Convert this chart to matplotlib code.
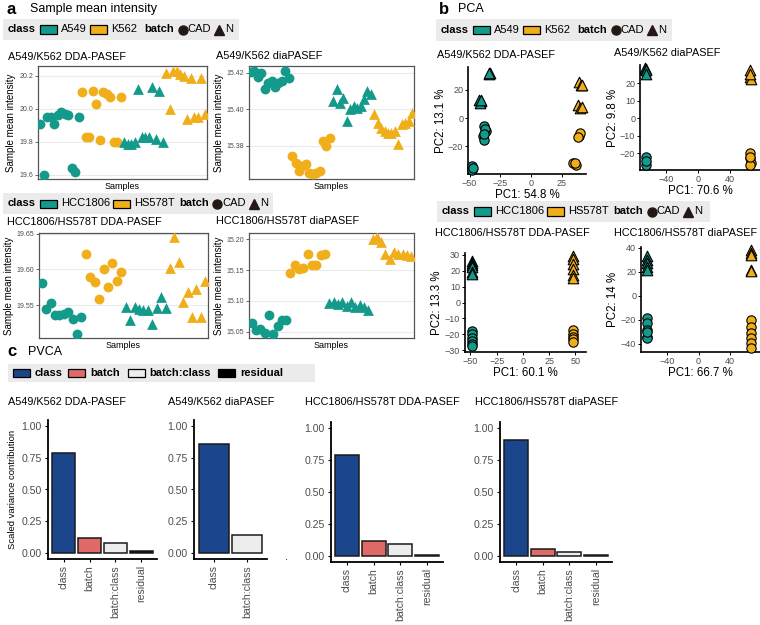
import matplotlib
matplotlib.use("Agg")
import matplotlib.pyplot as plt
from matplotlib.patches import Rectangle
from matplotlib.lines import Line2D
import numpy as np

plt.rcParams["font.family"] = ["Liberation Sans", "DejaVu Sans"]

W, H = 760, 625
TEAL = "#149A8B"
GOLD = "#F1AE1B"
BLUE = "#1B468C"
SALMON = "#E06A67"
LIGHT = "#EDEDED"
GRAYTXT = "#4D4D4D"

# ---- a: sample mean intensity, in sample order (CAD circles, then N triangles)
a1_a549_cad = [19.91, 19.60, 19.95, 19.95, 19.91, 19.96, 19.98, 19.97, 19.96, 19.64, 19.62, 19.95]
a1_k562_cad = [20.10, 19.83, 19.83, 20.11, 20.03, 19.81, 20.10, 20.09, 20.07, 19.80, 19.80, 20.07]
a1_a549_n = [19.80, 19.79, 19.79, 19.80, 20.12, 19.83, 19.83, 19.83, 20.13, 19.82, 20.11, 19.80]
a1_k562_n = [20.22, 20.00, 20.23, 20.23, 20.21, 20.20, 19.94, 20.19, 19.95, 19.95, 20.19, 19.97]

a2_a549_cad = [15.4204, 15.4209, 15.4178, 15.4196, 15.4109, 15.4145, 15.4155, 15.4124, 15.4145, 15.4155, 15.4209, 15.4173]
a2_k562_cad = [15.3745, 15.3709, 15.3664, 15.3691, 15.3700, 15.3655, 15.3645, 15.3655, 15.3664, 15.3827, 15.3800, 15.3845]
a2_a549_n = [15.4045, 15.4109, 15.4036, 15.4064, 15.3936, 15.4000, 15.4018, 15.4009, 15.4018, 15.4055, 15.4100, 15.4082]
a2_k562_n = [15.3973, 15.3927, 15.3900, 15.3882, 15.3873, 15.3873, 15.3882, 15.3809, 15.3918, 15.3927, 15.3936, 15.3982]

a3_hcc_cad = [19.581, 19.544, 19.553, 19.536, 19.536, 19.538, 19.541, 19.531, 19.509, 19.533]
a3_hs_cad = [19.622, 19.589, 19.582, 19.558, 19.601, 19.575, 19.609, 19.584, 19.596]
a3_hcc_n = [19.548, 19.529, 19.547, 19.544, 19.543, 19.543, 19.523, 19.546, 19.562, 19.546]
a3_hs_n = [19.602, 19.645, 19.611, 19.554, 19.568, 19.533, 19.572, 19.534, 19.584]

a4_hcc_cad = [15.0646, 15.0532, 15.0548, 15.0478, 15.0776, 15.0456, 15.0586, 15.0684, 15.0694]
a4_hs_cad = [15.1453, 15.1578, 15.1523, 15.1540, 15.1767, 15.1578, 15.1578, 15.1751, 15.1756]
a4_hcc_n = [15.0965, 15.0982, 15.0944, 15.0982, 15.0911, 15.0982, 15.0900, 15.0927, 15.0900, 15.0846]
a4_hs_n = [15.2011, 15.2038, 15.1957, 15.1767, 15.1686, 15.1794, 15.1756, 15.1767, 15.1740, 15.1724]

# ---- b: PCA scores (x = PC1, y = PC2)
b1_a549_cad_x = [-38.5, -37.0, -39.3, -38.5, -37.5, -38.0, -47.8, -48.3, -47.5]
b1_a549_cad_y = [-5.9, -9.4, -12.9, -15.3, -7.5, -11.0, -34.0, -36.5, -35.0]
b1_k562_cad_x = [39.3, 40.0, 38.5, 34.5, 36.5, 35.5]
b1_k562_cad_y = [-12.7, -10.8, -13.5, -31.9, -33.0, -32.0]
b1_a549_n_x = [-34.0, -33.5, -34.5, -42.0, -41.0, -41.5, -40.5]
b1_a549_n_y = [31.0, 32.0, 31.5, 13.0, 12.0, 10.5, 12.5]
b1_k562_n_x = [39.3, 40.5, 41.3, 38.5, 40.0, 41.5]
b1_k562_n_y = [25.1, 23.2, 23.5, 9.2, 6.8, 7.5]

b2_a549_cad_x = [-65.0, -65.0, -65.5]
b2_a549_cad_y = [-22.5, -26.9, -24.5]
b2_k562_cad_x = [65.0, 65.0, 66.0, 65.0, 64.5]
b2_k562_cad_y = [-20.2, -23.0, -25.7, -26.6, -22.0]
b2_a549_n_x = [-66.0, -65.0, -64.5, -65.5]
b2_a549_n_y = [28.6, 28.0, 27.5, 25.0]
b2_k562_n_x = [65.0, 65.0, 66.0, 64.5]
b2_k562_n_y = [27.4, 23.6, 22.5, 25.0]

b3_hcc_cad_x = [-48.6, -48.6, -48.6, -48.6, -48.6, -48.6]
b3_hcc_cad_y = [-18.0, -20.0, -22.0, -24.0, -26.0, -27.5]
b3_hs_cad_x = [47.6, 47.6, 47.6, 47.6, 47.6]
b3_hs_cad_y = [-17.0, -19.5, -21.5, -23.0, -24.5]
b3_hcc_n_x = [-48.6, -48.6, -48.6, -48.6, -48.6, -48.6]
b3_hcc_n_y = [26.0, 25.0, 23.5, 22.0, 19.0, 18.0]
b3_hs_n_x = [47.6, 47.6, 47.6, 47.6, 47.6, 47.6]
b3_hs_n_y = [29.0, 27.0, 24.0, 21.0, 17.0, 15.5]

b4_hcc_cad_x = [-65.0, -65.0, -65.0, -65.0, -65.0, -65.0]
b4_hcc_cad_y = [-18.3, -22.5, -28.0, -33.9, -35.3, -30.0]
b4_hs_cad_x = [66.0, 66.0, 66.0, 66.0, 66.0, 66.0]
b4_hs_cad_y = [-20.0, -25.6, -31.0, -35.3, -39.5, -43.6]
b4_hcc_n_x = [-65.0, -65.0, -65.0, -65.0, -65.0]
b4_hcc_n_y = [33.0, 30.0, 27.5, 24.0, 22.0]
b4_hs_n_x = [66.0, 66.0, 66.0, 66.0, 66.0]
b4_hs_n_y = [38.0, 35.6, 34.0, 21.7, 20.5]

# ---- c: PVCA
pvca_terms = ["class", "batch", "batch:class", "residual"]
pvca_colors = {"class": BLUE, "batch": SALMON, "batch:class": LIGHT, "residual": "black"}
c1_terms, c1_vals = pvca_terms, [0.79, 0.12, 0.08, 0.01]
c2_terms, c2_vals = ["class", "batch:class"], [0.86, 0.14]
c3_terms, c3_vals = pvca_terms, [0.79, 0.115, 0.09, 0.005]
c4_terms, c4_vals = pvca_terms, [0.91, 0.055, 0.03, 0.005]

fig = plt.figure(figsize=(W / 100, H / 100), dpi=100)
renderer = fig.canvas.get_renderer()


def px_axes(l, t, r, b):
    return fig.add_axes([l / W, 1 - b / H, (r - l) / W, (b - t) / H])


def ftext(x, y, s, **kw):
    return fig.text(x / W, 1 - y / H, s, va="center", ha="left", **kw)


def legend_row(x0, x1, top, bot, items, fs=8):
    fig.add_artist(Rectangle((x0 / W, 1 - bot / H), (x1 - x0) / W, (bot - top) / H,
                             transform=fig.transFigure, fc="#EBEBEB", ec="none", zorder=0))
    yc = (top + bot) / 2
    x = x0 + 5
    for kind, val, gap in items:
        if kind in ("t", "tb"):
            t = ftext(x, yc, val, fontsize=fs, fontweight="bold" if kind == "tb" else "normal")
            x += t.get_window_extent(renderer).width + gap
        elif kind == "box":
            fig.add_artist(Rectangle((x / W, 1 - (yc + 4) / H), 17 / W, 8 / H,
                                     transform=fig.transFigure, fc=val, ec="black", lw=0.9))
            x += 17 + gap
        else:
            fig.add_artist(Line2D([(x + 4) / W], [1 - yc / H], marker=val, ms=6.5, color="#231815",
                                  lw=0, transform=fig.transFigure))
            x += 8 + gap


def intensity_panel(ax, groups, ylim, yticks, fmt):
    start = 1
    for vals, color, marker in groups:
        x = np.arange(start, start + len(vals))
        start += len(vals)
        ax.scatter(x, vals, c=color, marker=marker, s=50 if marker == "o" else 60, linewidths=0, zorder=3)
    ax.set_xlim(0.4, start - 0.4)
    ax.set_ylim(*ylim)
    ax.set_yticks(yticks)
    ax.set_yticklabels([fmt % v for v in yticks])
    ax.set_xticks([])
    ax.grid(axis="y", color="#EBEBEB", lw=0.8)
    ax.set_axisbelow(True)
    for s in ax.spines.values():
        s.set_color("#555555")
        s.set_linewidth(0.9)
    ax.tick_params(axis="y", labelsize=5, colors=GRAYTXT, length=2, width=0.6, pad=1.5)
    ax.set_ylabel("Sample mean intensity", fontsize=7, labelpad=2)
    ax.set_xlabel("Samples", fontsize=6.5, labelpad=2)


def pca_panel(ax, groups, xlim, ylim, xticks, yticks, xlab, ylab):
    for xs, ys, color, marker in groups:
        ax.scatter(xs, ys, c=color, marker=marker, s=45 if marker == "o" else 58,
                   edgecolors="black", linewidths=0.8, zorder=3, clip_on=False)
    ax.set_xlim(*xlim)
    ax.set_ylim(*ylim)
    ax.set_xticks(xticks)
    ax.set_yticks(yticks)
    for s in ("top", "right"):
        ax.spines[s].set_visible(False)
    for s in ("left", "bottom"):
        ax.spines[s].set_linewidth(1.2)
    ax.tick_params(labelsize=6.5, labelcolor=GRAYTXT, length=2.5, width=0.7, pad=1)
    ax.set_xlabel(xlab, fontsize=8.3, labelpad=1)
    ax.set_ylabel(ylab, fontsize=8.3, labelpad=1)


def pvca_panel(ax, terms, vals, ylabel=None):
    x = np.arange(1, len(terms) + 1)
    ax.bar(x, vals, width=0.9, color=[pvca_colors[t] for t in terms], edgecolor="#1a1a1a", linewidth=1.1)
    ax.set_xlim(0.4, len(terms) + 0.6)
    ax.set_ylim(-0.05, 1.05)
    ax.set_yticks([0, 0.25, 0.5, 0.75, 1.0])
    ax.set_yticklabels(["0.00", "0.25", "0.50", "0.75", "1.00"])
    ax.set_xticks(x)
    ax.set_xticklabels(terms, rotation=90)
    for s in ("top", "right"):
        ax.spines[s].set_visible(False)
    for s in ("left", "bottom"):
        ax.spines[s].set_linewidth(1.3)
    ax.tick_params(labelsize=7.6, labelcolor=GRAYTXT, length=2.5, width=0.8, pad=2)
    if ylabel:
        ax.set_ylabel(ylabel, fontsize=6.8, labelpad=3)


# ---------------- panel a
ftext(7, 9, "a", fontsize=12, fontweight="bold")
ftext(30, 9, "Sample mean intensity", fontsize=9)
legend_row(3, 239, 19, 40, [("tb", "class", 4), ("box", TEAL, 4), ("t", "A549", 3), ("box", GOLD, 4),
                            ("t", "K562", 8), ("tb", "batch", 4), ("m", "o", 1), ("t", "CAD", 4),
                            ("m", "^", 2), ("t", "N", 0)])
ftext(8, 57, "A549/K562 DDA-PASEF", fontsize=7.8)
ftext(216, 56, "A549/K562 diaPASEF", fontsize=7.8)
ax = px_axes(38, 66, 207, 179)
intensity_panel(ax, [(a1_a549_cad, TEAL, "o"), (a1_k562_cad, GOLD, "o"), (a1_a549_n, TEAL, "^"),
                     (a1_k562_n, GOLD, "^")], (19.575, 20.26), [19.6, 19.8, 20.0, 20.2], "%.1f")
ax = px_axes(249, 66, 414, 179)
intensity_panel(ax, [(a2_a549_cad, TEAL, "o"), (a2_k562_cad, GOLD, "o"), (a2_a549_n, TEAL, "^"),
                     (a2_k562_n, GOLD, "^")], (15.362, 15.4236), [15.38, 15.40, 15.42], "%.2f")

legend_row(3, 273, 193, 214, [("tb", "class", 4), ("box", TEAL, 4), ("t", "HCC1806", 3), ("box", GOLD, 4),
                              ("t", "HS578T", 5), ("tb", "batch", 4), ("m", "o", 1), ("t", "CAD", 4),
                              ("m", "^", 2), ("t", "N", 0)])
ftext(7, 222, "HCC1806/HS578T DDA-PASEF", fontsize=7.8)
ftext(216, 221, "HCC1806/HS578T diaPASEF", fontsize=7.8)
ax = px_axes(39, 233, 208, 338)
intensity_panel(ax, [(a3_hcc_cad, TEAL, "o"), (a3_hs_cad, GOLD, "o"), (a3_hcc_n, TEAL, "^"),
                     (a3_hs_n, GOLD, "^")], (19.504, 19.651), [19.55, 19.60, 19.65], "%.2f")
ax = px_axes(249, 233, 414, 338)
intensity_panel(ax, [(a4_hcc_cad, TEAL, "o"), (a4_hs_cad, GOLD, "o"), (a4_hcc_n, TEAL, "^"),
                     (a4_hs_n, GOLD, "^")], (15.0396, 15.2103), [15.05, 15.10, 15.15, 15.20], "%.2f")

# ---------------- panel b
ftext(439, 9, "b", fontsize=12, fontweight="bold")
ftext(458, 9, "PCA", fontsize=9)
legend_row(436, 672, 19, 41, [("tb", "class", 4), ("box", TEAL, 4), ("t", "A549", 3), ("box", GOLD, 4),
                              ("t", "K562", 8), ("tb", "batch", 4), ("m", "o", 1), ("t", "CAD", 4),
                              ("m", "^", 2), ("t", "N", 0)])
ftext(437, 55, "A549/K562 DDA-PASEF", fontsize=7.8)
ftext(614, 53, "A549/K562 diaPASEF", fontsize=7.8)
ax = px_axes(468, 67, 586, 174)
pca_panel(ax, [(b1_a549_cad_x, b1_a549_cad_y, TEAL, "o"), (b1_k562_cad_x, b1_k562_cad_y, GOLD, "o"),
               (b1_a549_n_x, b1_a549_n_y, TEAL, "^"), (b1_k562_n_x, b1_k562_n_y, GOLD, "^")],
          (-51.3, 44.8), (-39.4, 35.9), [-50, -25, 0, 25], [-20, 0, 20], "PC1: 54.8 %", "PC2: 13.1 %")
ax = px_axes(640, 65, 760, 170)
pca_panel(ax, [(b2_a549_cad_x, b2_a549_cad_y, TEAL, "o"), (b2_k562_cad_x, b2_k562_cad_y, GOLD, "o"),
               (b2_a549_n_x, b2_a549_n_y, TEAL, "^"), (b2_k562_n_x, b2_k562_n_y, GOLD, "^")],
          (-72.5, 77.5), (-29.7, 30.3), [-40, 0, 40], [-20, -10, 0, 10, 20], "PC1: 70.6 %", "PC2: 9.8 %")

legend_row(437, 710, 201, 222, [("tb", "class", 4), ("box", TEAL, 4), ("t", "HCC1806", 3), ("box", GOLD, 4),
                                ("t", "HS578T", 5), ("tb", "batch", 4), ("m", "o", 1), ("t", "CAD", 4),
                                ("m", "^", 2), ("t", "N", 0)])
ftext(435, 233, "HCC1806/HS578T DDA-PASEF", fontsize=7.8)
ftext(614, 233, "HCC1806/HS578T diaPASEF", fontsize=7.8)
ax = px_axes(465, 253, 586, 352)
pca_panel(ax, [(b3_hcc_cad_x, b3_hcc_cad_y, TEAL, "o"), (b3_hs_cad_x, b3_hs_cad_y, GOLD, "o"),
               (b3_hcc_n_x, b3_hcc_n_y, TEAL, "^"), (b3_hs_n_x, b3_hs_n_y, GOLD, "^")],
          (-55.2, 60.0), (-31, 31), [-50, -25, 0, 25, 50], [-30, -20, -10, 0, 10, 20, 30],
          "PC1: 60.1 %", "PC2: 13.3 %")
ax = px_axes(641, 247, 760, 352)
pca_panel(ax, [(b4_hcc_cad_x, b4_hcc_cad_y, TEAL, "o"), (b4_hs_cad_x, b4_hs_cad_y, GOLD, "o"),
               (b4_hcc_n_x, b4_hcc_n_y, TEAL, "^"), (b4_hs_n_x, b4_hs_n_y, GOLD, "^")],
          (-72.5, 77.5), (-46.7, 40.8), [-40, 0, 40], [-40, -20, 0, 20, 40], "PC1: 66.7 %", "PC2: 14 %")

# ---------------- panel c
ftext(7, 352, "c", fontsize=12, fontweight="bold")
ftext(28, 352, "PVCA", fontsize=9)
legend_row(8, 315, 364, 382, [("box", BLUE, 5), ("tb", "class", 5), ("box", SALMON, 5), ("tb", "batch", 8),
                              ("box", LIGHT, 5), ("tb", "batch:class", 7), ("box", "black", 5),
                              ("tb", "residual", 0)])
ftext(8, 402, "A549/K562 DDA-PASEF", fontsize=7.8)
ftext(168, 402, "A549/K562 diaPASEF", fontsize=7.8)
ftext(305, 402, "HCC1806/HS578T DDA-PASEF", fontsize=7.8)
ftext(475, 402, "HCC1806/HS578T diaPASEF", fontsize=7.8)
pvca_panel(px_axes(48, 420, 157, 559), c1_terms, c1_vals, "Scaled variance contribution")
pvca_panel(px_axes(194, 420, 267, 559), c2_terms, c2_vals)
pvca_panel(px_axes(331, 422, 443, 562), c3_terms, c3_vals)
pvca_panel(px_axes(500, 422, 612, 562), c4_terms, c4_vals)
ftext(285, 557, ".", fontsize=8)

fig.savefig("out.png", dpi=100)
